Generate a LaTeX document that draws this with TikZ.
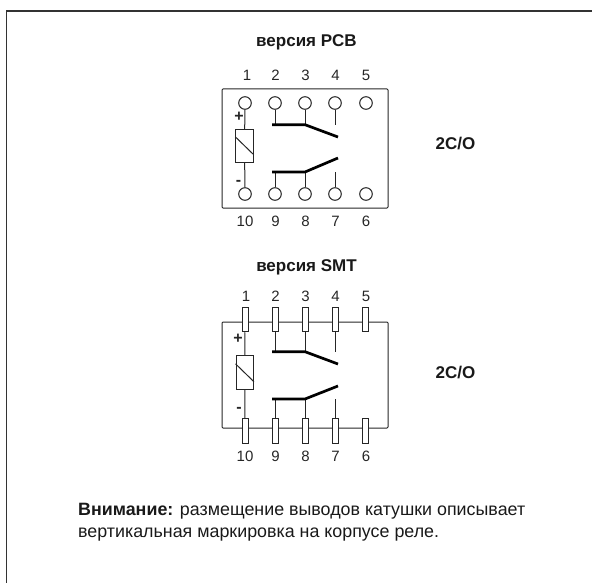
\documentclass[tikz,border=0pt]{standalone}
\usepackage{fontspec}
\setmainfont{Liberation Sans}

\begin{document}
\begin{tikzpicture}[
    x=1pt, y=-1pt,
    font=\fontsize{17.85}{22}\selectfont,
    line/.style={draw=black!85, line width=1pt},
    contact/.style={draw=black, line width=2.7pt},
    title/.style={font=\fontsize{17}{20}\selectfont\bfseries, text=black!90},
    pinlabel/.style={font=\fontsize{15}{18}\selectfont, text=black!85, inner sep=0pt},
    polelabel/.style={font=\fontsize{16}{18}\selectfont\bfseries, text=black!85, inner sep=0pt},
    hole/.style={circle, draw=black!85, line width=1pt, fill=white, minimum size=12.6pt, inner sep=0pt},
    pad/.style={rectangle, draw=black!85, line width=1pt, fill=white, minimum width=6pt, minimum height=24.5pt, inner sep=0pt},
    coil/.style={rectangle, draw=black!85, line width=1pt, minimum width=17.4pt, inner sep=0pt},
]
\useasboundingbox (0,0) rectangle (592,583);

% Frame
\draw[draw=black!80, line width=1.5pt] (6.5,583) -- (6.5,11) -- (592,11);

% PCB version
\node[title] (titlepcb) at (306.5,42) {версия PCB};
\draw[line, rounded corners=1pt] (222,89) rectangle (388,208);

\node[pinlabel] (la1) at (247,75) {1};
\node[pinlabel] (la2) at (275.5,75) {2};
\node[pinlabel] (la3) at (305.5,75) {3};
\node[pinlabel] (la4) at (335.5,75) {4};
\node[pinlabel] (la5) at (366,75) {5};
\node[pinlabel] (la10) at (245,221) {10};
\node[pinlabel] (la9) at (275.5,221) {9};
\node[pinlabel] (la8) at (305.5,221) {8};
\node[pinlabel] (la7) at (335.5,221) {7};
\node[pinlabel] (la6) at (366,221) {6};

\node[hole] (pa1) at (245,103) {};
\node[hole] (pa2) at (275,103) {};
\node[hole] (pa3) at (305,103) {};
\node[hole] (pa4) at (335,103) {};
\node[hole] (pa5) at (366,103) {};
\node[hole] (pa10) at (245,194) {};
\node[hole] (pa9) at (275,194) {};
\node[hole] (pa8) at (305,194) {};
\node[hole] (pa7) at (335,194) {};
\node[hole] (pa6) at (366,194) {};

% Coil
\node[coil, minimum height=33.4pt] (coila) at (244.5,146) {};
\draw[line] ([yshift=-8pt]coila.north west) -- ([yshift=8.5pt]coila.south east);
\draw[line] (pa1) -- (coila);
\draw[line] (pa10) -- (coila);
\node[polelabel] (plusa) at (239,117) {+};
\node[polelabel] (minusa) at (238.5,183) {-};

% Contacts
\coordinate (baraup) at (272,124.7);
\coordinate (hingeaup) at (305,124.7);
\coordinate (tipaup) at (338,137);
\coordinate (baradn) at (272,172);
\coordinate (hingeadn) at (305,172);
\coordinate (tipadn) at (338,158);
\coordinate (enda4) at (335,124.7);
\coordinate (enda7) at (335,172);
\coordinate (enda2) at (275,124.7);
\coordinate (enda9) at (275,172);
\draw[line] (pa2) -- (enda2);
\draw[line] (pa3) -- (hingeaup);
\draw[line] (pa4) -- (enda4);
\draw[line] (pa9) -- (enda9);
\draw[line] (pa8) -- (hingeadn);
\draw[line] (pa7) -- (enda7);
\draw[contact] (baraup) -- (hingeaup) -- (tipaup);
\draw[contact] (baradn) -- (hingeadn) -- (tipadn);

\node[title] (typea) at (455.5,144) {2C/O};

% SMT version
\node[title] (titlesmt) at (306.5,267) {версия SMT};
\draw[line, rounded corners=1pt] (222,322) rectangle (388,428);

\node[pinlabel] (lb1) at (246,296) {1};
\node[pinlabel] (lb2) at (275.5,296) {2};
\node[pinlabel] (lb3) at (305.5,296) {3};
\node[pinlabel] (lb4) at (335.5,296) {4};
\node[pinlabel] (lb5) at (366,296) {5};
\node[pinlabel] (lb10) at (245,456) {10};
\node[pinlabel] (lb9) at (275.5,456) {9};
\node[pinlabel] (lb8) at (305.5,456) {8};
\node[pinlabel] (lb7) at (335.5,456) {7};
\node[pinlabel] (lb6) at (366,456) {6};

\node[pad] (pb1) at (245,319.5) {};
\node[pad] (pb2) at (275,319.5) {};
\node[pad] (pb3) at (305,319.5) {};
\node[pad] (pb4) at (335,319.5) {};
\node[pad] (pb5) at (365.5,319.5) {};
\node[pad] (pb10) at (245,431) {};
\node[pad] (pb9) at (275,431) {};
\node[pad] (pb8) at (305,431) {};
\node[pad] (pb7) at (335,431) {};
\node[pad] (pb6) at (365.5,431) {};

% Coil
\node[coil, minimum height=33.4pt] (coilb) at (244.7,372.5) {};
\draw[line] ([yshift=-8.5pt]coilb.north west) -- ([yshift=8pt]coilb.south east);
\draw[line] (pb1) -- (coilb);
\draw[line] (pb10) -- (coilb);
\node[polelabel] (plusb) at (238,339) {+};
\node[polelabel] (minusb) at (239,410) {-};

% Contacts
\coordinate (barbup) at (272,351.7);
\coordinate (hingebup) at (305,351.7);
\coordinate (tipbup) at (338,364);
\coordinate (barbdn) at (272,399);
\coordinate (hingebdn) at (305,399);
\coordinate (tipbdn) at (338,386);
\coordinate (endb4) at (335,351.7);
\coordinate (endb7) at (335,399);
\coordinate (endb2) at (275,351.7);
\coordinate (endb9) at (275,399);
\draw[line] (pb2) -- (endb2);
\draw[line] (pb3) -- (hingebup);
\draw[line] (pb4) -- (endb4);
\draw[line] (pb9) -- (endb9);
\draw[line] (pb8) -- (hingebdn);
\draw[line] (pb7) -- (endb7);
\draw[contact] (barbup) -- (hingebup) -- (tipbup);
\draw[contact] (barbdn) -- (hingebdn) -- (tipbdn);

\node[title] (typeb) at (455.5,373) {2C/O};

% Note
\node[anchor=base west, inner sep=0pt, text=black!90] (noteone) at (78,515) {\textbf{Внимание:} размещение выводов катушки описывает};
\node[anchor=base west, inner sep=0pt, text=black!90] (notetwo) at (78,537) {вертикальная маркировка на корпусе реле.};

\end{tikzpicture}
\end{document}
